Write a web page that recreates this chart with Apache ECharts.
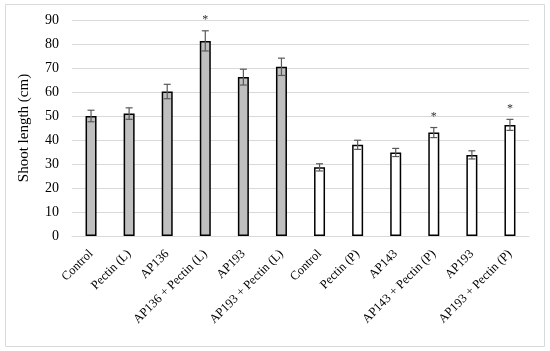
<!DOCTYPE html>
<html><head><meta charset="utf-8">
<script src="https://cdn.jsdelivr.net/npm/echarts@6/dist/echarts.min.js"></script>
<style>html,body{margin:0;padding:0;background:#fff}#c{width:550px;height:351px}</style>
</head><body><div id="c"></div>
<script>
const categories = ['Control','Pectin (L)','AP136','AP136 + Pectin (L)','AP193','AP193 + Pectin (L)','Control','Pectin (P)','AP143','AP143 + Pectin (P)','AP193','AP193 + Pectin (P)'];
const values = [50, 51, 60.2, 81.3, 66.2, 70.5, 28.6, 38, 34.8, 43.1, 33.8, 46.3];
const errors = [2.4, 2.4, 3, 4.2, 3.3, 3.6, 1.5, 1.9, 1.7, 2.1, 1.7, 2.3];
const significant = [false,false,false,true,false,false,false,false,false,true,false,true];
const groupFill = ['#bfbfbf','#bfbfbf','#bfbfbf','#bfbfbf','#bfbfbf','#bfbfbf','#ffffff','#ffffff','#ffffff','#ffffff','#ffffff','#ffffff'];
const yTicks = [0,10,20,30,40,50,60,70,80,90];

const font = '"Liberation Serif", "DejaVu Serif", serif';
const chart = echarts.init(document.getElementById('c'));
chart.setOption({
  animation: false,
  graphic: [{type:'rect', shape:{x:5.5,y:4.5,width:539,height:342}, style:{fill:'none', stroke:'#d9d9d9', lineWidth:1}, silent:true}],
  grid: {left:72, right:21, top:20, bottom:115},
  xAxis: {
    type:'category', data: categories,
    axisLine:{show:true, lineStyle:{color:'#d9d9d9', width:1}},
    axisTick:{show:false},
    axisLabel:{interval:0, rotate:45, fontFamily:font, fontSize:12.5, color:'#000', margin:16}
  },
  yAxis: {
    type:'value', min:yTicks[0], max:yTicks[yTicks.length-1], interval:10,
    name:'Shoot length (cm)', nameLocation:'middle', nameGap:40,
    nameTextStyle:{fontFamily:font, fontSize:15, color:'#000'},
    axisLine:{show:false}, axisTick:{show:false},
    axisLabel:{fontFamily:font, fontSize:14, color:'#000', margin:13},
    splitLine:{lineStyle:{color:'#d9d9d9', width:1}}
  },
  series: [
    {
      type:'bar', barWidth:11,
      data: values.map((v,i)=>({value:v, itemStyle:{color:groupFill[i]}})),
      itemStyle:{borderColor:'#000', borderWidth:1.5},
      z:2
    },
    {
      type:'custom',
      data: values.map((v,i)=>[i, v, errors[i], significant[i]?1:0]),
      z:3,
      renderItem:(params, api)=>{
        const x = api.coord([api.value(0), 0])[0];
        const v = api.value(1), e = api.value(2);
        const top = api.coord([api.value(0), v+e])[1];
        const bot = api.coord([api.value(0), v-e])[1];
        const cap = 3.5;
        const st = {stroke:'#595959', lineWidth:1.2};
        const children = [
          {type:'line', shape:{x1:x,y1:top,x2:x,y2:bot}, style:st},
          {type:'line', shape:{x1:x-cap,y1:top,x2:x+cap,y2:top}, style:st},
          {type:'line', shape:{x1:x-cap,y1:bot,x2:x+cap,y2:bot}, style:st}
        ];
        if (api.value(3)) {
          children.push({type:'text', style:{text:'*', x:x, y:top-5, align:'center', verticalAlign:'bottom', fontFamily:font, fontSize:12, fill:'#333'}});
        }
        return {type:'group', children};
      }
    }
  ]
});
</script></body></html>
